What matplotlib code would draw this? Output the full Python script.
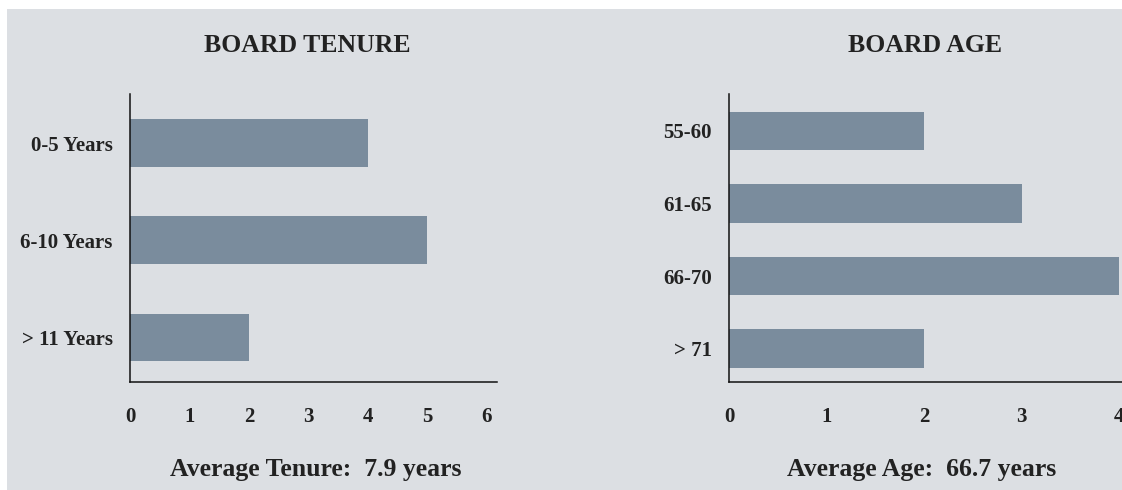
import matplotlib
matplotlib.use("Agg")
import matplotlib.pyplot as plt
from matplotlib.patches import Rectangle

tenure_cats = ["0-5 Years", "6-10 Years", "> 11 Years"]
tenure_vals = [4, 5, 2]
tenure_ticks = [0, 1, 2, 3, 4, 5, 6]

age_cats = ["55-60", "61-65", "66-70", "> 71"]
age_vals = [2, 3, 4, 2]
age_ticks = [0, 1, 2, 3, 4]

title_left = "BOARD TENURE"
title_right = "BOARD AGE"
foot_left = "Average Tenure:  7.9 years"
foot_right = "Average Age:  66.7 years"

BG = "#dcdfe3"
BAR = "#7a8c9d"
W, H = 1122, 490
plt.rcParams['font.family'] = ['Liberation Serif', 'DejaVu Serif']
plt.rcParams['font.weight'] = 'bold'

fig = plt.figure(figsize=(W/100, H/100), dpi=100, facecolor="white")
fig.patches.append(Rectangle((7/W, 0), 1 - 7/W, 1 - 9/H, transform=fig.transFigure,
                             facecolor=BG, edgecolor="none", zorder=-10))

def px_axes(x0, x1, y0, y1):
    return fig.add_axes([x0/W, 1 - y1/H, (x1 - x0)/W, (y1 - y0)/H])

def style(ax):
    ax.set_facecolor("none")
    for s in ["top", "right"]:
        ax.spines[s].set_visible(False)
    for s in ["left", "bottom"]:
        ax.spines[s].set_color("#111111")
        ax.spines[s].set_linewidth(1.1)
    ax.tick_params(axis="both", length=0, labelsize=15, colors="#222222")
    ax.tick_params(axis="x", pad=18)
    ax.tick_params(axis="y", pad=12.5)
    for lab in ax.get_xticklabels() + ax.get_yticklabels():
        lab.set_fontweight("bold")

ax1 = px_axes(130, 497, 94, 382)
ax1.barh(range(len(tenure_cats)), tenure_vals, height=0.49, color=BAR)
ax1.set_yticks(range(len(tenure_cats)))
ax1.set_yticklabels(tenure_cats)
ax1.set_xticks(tenure_ticks)
ax1.set_xlim(0, 6.17)
ax1.set_ylim(2.46, -0.505)
style(ax1)

ax2 = px_axes(729, 1122, 94, 382)
ax2.barh(range(len(age_cats)), age_vals, height=0.53, color=BAR)
ax2.set_yticks(range(len(age_cats)))
ax2.set_yticklabels(age_cats)
ax2.set_xticks(age_ticks)
ax2.set_xlim(0, 4.03)
ax2.set_ylim(3.46, -0.51)
style(ax2)

fig.text(307/W, 1 - 52/H, title_left, ha="center", va="baseline", fontsize=18.5, fontweight="bold", color="#222222")
fig.text(925/W, 1 - 52/H, title_right, ha="center", va="baseline", fontsize=18.5, fontweight="bold", color="#222222")
fig.text(316/W, 1 - 476/H, foot_left, ha="center", va="baseline", fontsize=18.5, fontweight="bold", color="#222222")
fig.text(922/W, 1 - 476/H, foot_right, ha="center", va="baseline", fontsize=18.5, fontweight="bold", color="#222222")

fig.savefig("out.png", dpi=100, facecolor="white")
